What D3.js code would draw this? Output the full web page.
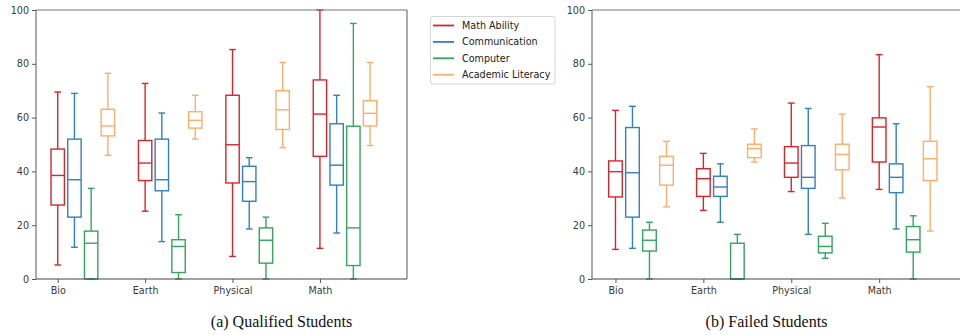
<!DOCTYPE html>
<html><head><meta charset="utf-8">
<script src="https://cdn.jsdelivr.net/npm/d3@7"></script>
<style>
body{margin:0;background:#fff;}
svg{display:block;}
text{font-family:"DejaVu Sans",sans-serif;}
</style></head>
<body>
<svg id="c" width="960" height="335"></svg>
<script>
const categories = ["Bio","Earth","Physical","Math"];
const series = ["Math Ability","Communication","Computer","Academic Literacy"];
const colors = ["#d7262b","#3181bd","#34a460","#fdae6b"];
const yTicks = [0,20,40,60,80,100];
// each box: [low whisker, Q1, median, Q3, high whisker], per category per series
const qualified = [
  [[5.2,27.5,38.5,48.3,69.5],[11.8,23.0,36.9,52.0,69.0],[0,0,13.3,17.8,33.7],[46.0,53.2,56.9,63.1,76.5]],
  [[25.2,36.6,43.1,51.5,72.7],[13.9,32.8,36.9,52.0,61.7],[0,2.4,12.1,14.6,23.9],[52.0,56.1,59.0,62.2,68.3]],
  [[8.4,35.7,49.9,68.3,85.3],[18.6,28.9,36.2,41.9,45.1],[0,5.9,14.4,19.0,23.0],[48.8,55.6,62.9,70.0,80.5]],
  [[11.4,45.6,61.3,74.0,100],[17.1,34.9,42.3,57.7,68.3],[0,5.0,19.0,56.8,95.0],[49.6,56.9,61.6,66.3,80.5]]
];
const failed = [
  [[11.0,30.5,39.9,43.9,62.7],[11.4,23.0,39.5,56.3,64.2],[0,10.4,14.4,18.2,21.1],[26.8,34.9,42.3,45.6,51.2]],
  [[25.5,30.7,37.3,41.0,46.7],[21.1,30.7,34.2,38.2,42.8],[0,0,0,13.3,16.6],[43.5,45.1,48.5,50.1,55.8]],
  [[32.5,37.8,43.1,49.2,65.4],[16.6,33.7,37.8,49.6,63.4],[7.7,9.7,12.1,15.9,20.7],[30.1,40.6,46.3,50.1,61.3]],
  [[33.3,43.5,56.5,59.9,83.4],[18.6,32.1,37.8,42.8,57.7],[0,10.0,14.6,19.5,23.5],[17.8,36.6,44.7,51.2,71.5]]
];
const captions = ["(a) Qualified Students","(b) Failed Students"];

const svg = d3.select("#c");

function drawChart(data, cfg){
  const g = svg.append("g");
  const x = d3.scaleLinear().domain(cfg.xdom).range(cfg.xr);
  const y = d3.scaleLinear().domain([0,100]).range([279,10]);
  const pos = (i,j) => i*cfg.catStep + j;
  const bw = 0.8, cw = 0.4;
  g.append("defs").append("clipPath").attr("id","clip"+cfg.id)
    .append("rect").attr("x",cfg.xr[0]-2).attr("y",0).attr("width",cfg.xr[1]-cfg.xr[0]+4).attr("height",300);
  const plot = g.append("g").attr("clip-path",`url(#clip${cfg.id})`);
  data.forEach((cat,i)=>{
    cat.forEach((b,j)=>{
      const c = colors[j];
      const bg = plot.append("g").attr("stroke",c).attr("stroke-width",1.4).attr("fill","none");
      const p = pos(i,j);
      bg.append("line").attr("x1",x(p)).attr("x2",x(p)).attr("y1",y(b[0])).attr("y2",y(b[1]));
      bg.append("line").attr("x1",x(p)).attr("x2",x(p)).attr("y1",y(b[3])).attr("y2",y(b[4]));
      bg.append("line").attr("x1",x(p-cw/2)).attr("x2",x(p+cw/2)).attr("y1",y(b[0])).attr("y2",y(b[0]));
      bg.append("line").attr("x1",x(p-cw/2)).attr("x2",x(p+cw/2)).attr("y1",y(b[4])).attr("y2",y(b[4]));
      bg.append("rect").attr("x",x(p-bw/2)).attr("width",x(p+bw/2)-x(p-bw/2))
        .attr("y",y(b[3])).attr("height",y(b[1])-y(b[3]));
      bg.append("line").attr("x1",x(p-bw/2)).attr("x2",x(p+bw/2)).attr("y1",y(b[2])).attr("y2",y(b[2]));
    });
  });
  const sp = g.append("g").attr("stroke-width",1.1);
  sp.append("line").attr("x1",cfg.xr[0]).attr("x2",cfg.xr[1]).attr("y1",y(100)).attr("y2",y(100)).attr("stroke","#777");
  if(cfg.right) sp.append("line").attr("x1",cfg.xr[1]).attr("x2",cfg.xr[1]).attr("y1",y(0)).attr("y2",y(100)).attr("stroke","#666");
  const ya = d3.axisLeft(y).tickValues(yTicks).tickSize(4).tickPadding(3);
  const yg = g.append("g").attr("transform",`translate(${cfg.xr[0]},0)`).call(ya);
  const xa = d3.axisBottom(x)
    .tickValues(categories.map((_,i)=>pos(i,0))).tickFormat((d,i)=>categories[i]).tickSize(4).tickPadding(4);
  const xg = g.append("g").attr("transform",`translate(0,${y(0)})`).call(xa);
  [yg,xg].forEach(a=>{
    a.selectAll(".domain").attr("stroke","#444").attr("stroke-width",1.1);
    a.selectAll(".tick line").attr("stroke","#555");
    a.selectAll("text").attr("fill","#3a3a3a").style("font-size","9.6px").style("font-family","DejaVu Sans");
  });
  yg.select(".domain").attr("stroke","#666");
  xg.select(".domain").attr("d",`M${cfg.xr[0]},0H${cfg.xr[1]}`);
  yg.select(".domain").attr("d",`M0,${y(0)}V${y(100)}`);
  svg.append("text").attr("x",cfg.capX).attr("y",327).attr("text-anchor","middle")
    .style("font-family","'Liberation Serif','Times New Roman',serif").style("font-size","16px").attr("fill","#111")
    .text(cfg.caption);
}

drawChart(qualified,{id:1,xdom:[-1.3,20.9],xr:[36,407],catStep:5.23,right:true,capX:281.5,caption:captions[0]});
drawChart(failed,{id:2,xdom:[-1.38,20.97],xr:[592,972],catStep:5.17,right:false,capX:766.5,caption:captions[1]});

const lg = svg.append("g");
lg.append("rect").attr("x",430.5).attr("y",16.5).attr("width",124.5).attr("height",67.5)
  .attr("rx",2).attr("fill","#fff").attr("stroke","#d6d6d6");
series.forEach((s,j)=>{
  const yy = 25.5 + j*16.4;
  lg.append("line").attr("x1",433).attr("x2",454).attr("y1",yy).attr("y2",yy)
    .attr("stroke",colors[j]).attr("stroke-width",1.8);
  lg.append("text").attr("x",462).attr("y",yy+3.5).attr("fill","#222")
    .style("font-size","9.6px").text(s);
});
</script>
</body></html>
